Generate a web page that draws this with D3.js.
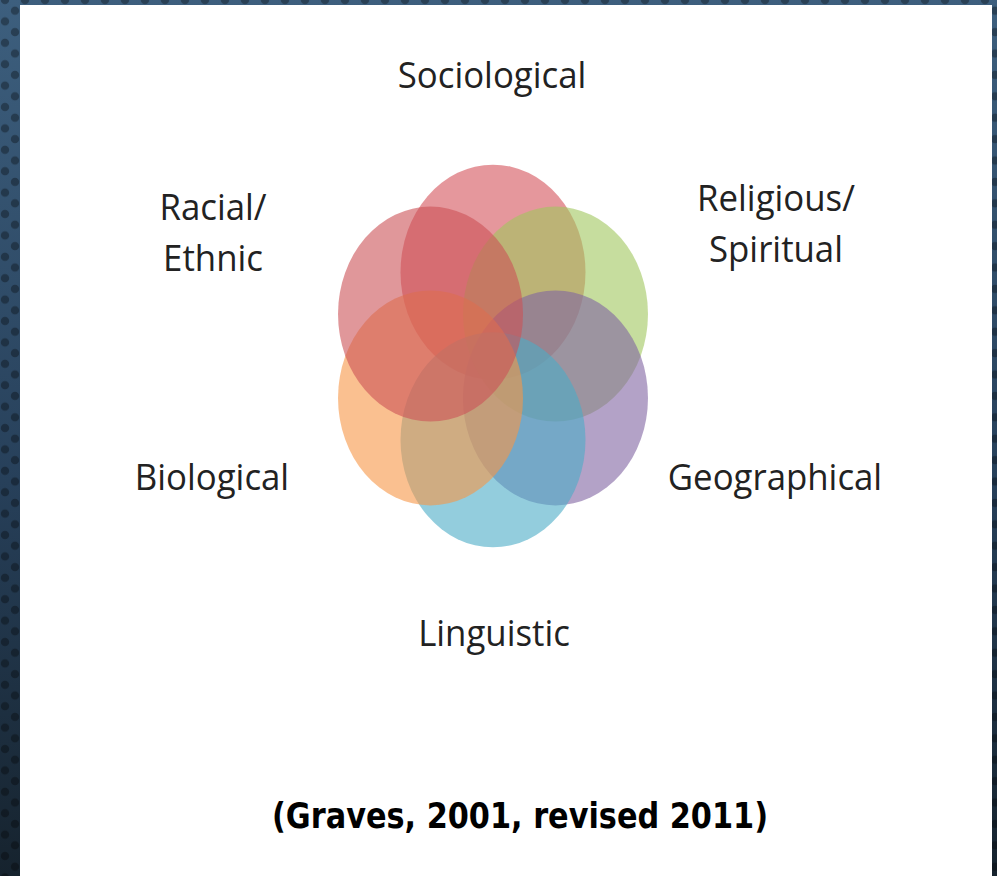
<!DOCTYPE html>
<html>
<head>
<meta charset="utf-8">
<script src="https://cdn.jsdelivr.net/npm/d3@7"></script>
<style>
  html, body { margin: 0; padding: 0; background: #1c2c3b; }
  svg { display: block; }
</style>
</head>
<body>
<div id="chart"></div>
<script>
const width = 997;
const height = 876;

// the six sets, clockwise from the top (also the drawing order)
const setNames = ['Sociological', 'Religious/Spiritual', 'Geographical', 'Linguistic', 'Biological', 'Racial/Ethnic'];
const setAngles = [0, 60, 120, 180, 240, 300];
const setColors = ['#d4525a', '#a0c65d', '#8064a2', '#4bacc6', '#f79646', '#cc5156'];
const setSpread = 0.78; // distance of each circle centre from the middle, in radii
const citation = '(Graves, 2001, revised 2011)';

const labelColor = '#222222';
const circleOpacity = 0.6;
const labelFont = '"Open Sans", "Noto Sans", sans-serif';
const labelSize = 37;
const labelSqueeze = 0.94;

// the diagram was stretched vertically, so x and y scales differ
const xScale = d3.scaleLinear().domain([-1, 1]).range([400.5, 585.5]);
const yScale = d3.scaleLinear().domain([-1, 1]).range([248.5, 463.5]);

// label anchor for each set (middle of the text block, first baseline)
const labelX = [492, 776, 775, 494, 212, 213];
const labelY = [88, 211, 490, 646, 490, 220];

function addBackground(svg) {
  const defs = svg.append('defs');

  const grad = defs.append('linearGradient')
    .attr('id', 'bg-gradient')
    .attr('x1', 0).attr('y1', 0)
    .attr('x2', 0).attr('y2', 1);
  grad.append('stop').attr('offset', '0%').attr('stop-color', '#3d5f7e');
  grad.append('stop').attr('offset', '55%').attr('stop-color', '#27405a');
  grad.append('stop').attr('offset', '100%').attr('stop-color', '#16232e');

  const pattern = defs.append('pattern')
    .attr('id', 'bg-dots')
    .attr('patternUnits', 'userSpaceOnUse')
    .attr('width', 20)
    .attr('height', 21.4);
  [[5, 0], [15, 10.7], [5, 21.4]].forEach(([cx, cy]) => {
    pattern.append('circle')
      .attr('cx', cx)
      .attr('cy', cy)
      .attr('r', 4.2)
      .attr('fill', 'rgba(0,0,0,0.32)');
  });

  svg.append('rect')
    .attr('width', width).attr('height', height)
    .attr('fill', 'url(#bg-gradient)');
  svg.append('rect')
    .attr('width', width).attr('height', height)
    .attr('fill', 'url(#bg-dots)');

  // white slide panel
  svg.append('rect')
    .attr('x', 20).attr('y', 5)
    .attr('width', 972).attr('height', height)
    .attr('fill', 'white');
}

function drawCircles(svg) {
  const rx = xScale(1) - xScale(0);
  const ry = yScale(1) - yScale(0);

  svg.append('g')
    .attr('class', 'venn__circles')
    .selectAll('ellipse')
    .data(setNames)
    .join('ellipse')
    .attr('cx', (d, i) => xScale(setSpread * Math.sin(setAngles[i] * Math.PI / 180)))
    .attr('cy', (d, i) => yScale(-setSpread * Math.cos(setAngles[i] * Math.PI / 180)))
    .attr('rx', rx)
    .attr('ry', ry)
    .attr('fill', (d, i) => setColors[i])
    .attr('fill-opacity', circleOpacity);
}

function drawLabels(svg) {
  const labels = svg.append('g')
    .attr('class', 'venn__labels')
    .attr('font-family', labelFont)
    .attr('font-size', labelSize)
    .attr('fill', labelColor)
    .attr('text-anchor', 'middle');

  labels.selectAll('text')
    .data(setNames)
    .join('text')
    .attr('x', (d, i) => labelX[i])
    .attr('y', (d, i) => labelY[i])
    .each(function (d, i) {
      // names with a slash break after it, as on the slide
      const parts = d.includes('/') ? [d.slice(0, d.indexOf('/') + 1), d.slice(d.indexOf('/') + 1)] : [d];
      const text = d3.select(this);
      parts.forEach((p, j) => {
        text.append('tspan')
          .attr('x', labelX[i])
          .attr('dy', j === 0 ? 0 : 51)
          .text(p);
      });
    });

  // Calibri is a little narrower than the fonts here, so squeeze each line
  labels.selectAll('tspan').each(function () {
    const len = this.getComputedTextLength();
    d3.select(this)
      .attr('textLength', len * labelSqueeze)
      .attr('lengthAdjust', 'spacingAndGlyphs');
  });

  svg.append('text')
    .attr('class', 'venn__citation')
    .attr('x', 520)
    .attr('y', 828)
    .attr('text-anchor', 'middle')
    .attr('font-family', 'Tahoma, "DejaVu Sans", Verdana, sans-serif')
    .attr('font-weight', 'bold')
    .attr('font-size', 36)
    .attr('fill', '#000')
    .attr('textLength', 496)
    .attr('lengthAdjust', 'spacingAndGlyphs')
    .text(citation);
}

const svg = d3.select('#chart')
  .append('svg')
  .attr('width', width)
  .attr('height', height);

addBackground(svg);
drawCircles(svg);
drawLabels(svg);
</script>
</body>
</html>
